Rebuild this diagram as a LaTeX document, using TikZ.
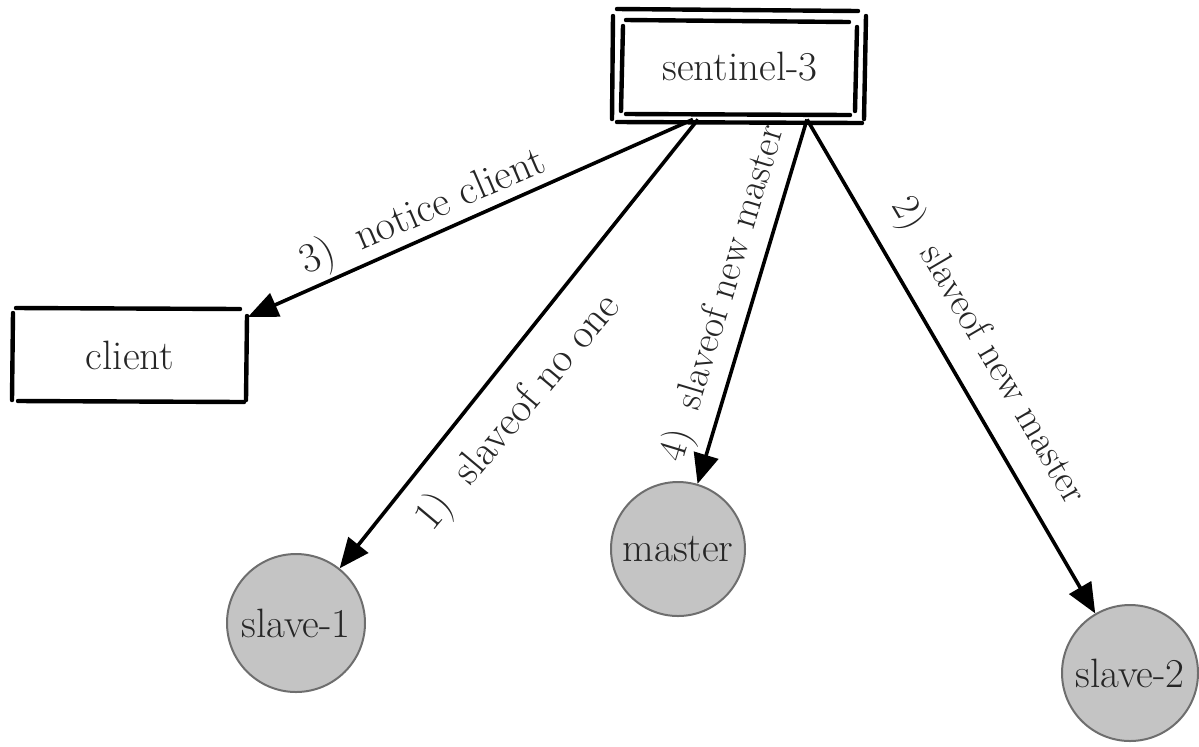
\documentclass[tikz,border=0pt]{standalone}
\usetikzlibrary{arrows.meta,calc}
\definecolor{circfill}{HTML}{C4C4C4}
\definecolor{circline}{HTML}{6E6E6E}
\begin{document}
\begin{tikzpicture}[x=0.5pt,y=-0.5pt,
  txt/.style={font=\fontsize{20.5}{24}\selectfont, text=black!85},
  boxnode/.style={txt, inner sep=0pt},
  sketch/.style={line width=2.2pt, line cap=round, black},
  circnode/.style={txt, circle, fill=circfill, draw=circline, line width=1pt, inner sep=0pt},
  conn/.style={line width=1.8pt, black, -{Triangle[length=15pt,width=12.5pt]}},
  lbl/.style={font=\fontsize{21}{25}\selectfont, text=black!85, inner sep=0pt},
  lbls/.style={font=\fontsize{19.5}{24}\selectfont, text=black!85, inner sep=0pt}
]
\useasboundingbox (0,0) rectangle (1199,746);

% nodes
\node[boxnode, minimum width=117pt, minimum height=52pt] (sentinel) at (740,67) {sentinel-3};
\node[boxnode, minimum width=117.5pt, minimum height=46.5pt] (client) at (130,355) {client};
\node[circnode, minimum size=69pt] (slave1) at (296,623) {slave-1};
\node[circnode, minimum size=67pt] (master) at (678,549) {master};
\node[circnode, minimum size=68pt] (slave2) at (1130,673) {slave-2};

% sketchy double frame of sentinel-3
\draw[sketch] (617,9) -- (858,11);
\draw[sketch] (626,20) -- (849,22);
\draw[sketch] (613,16) -- (612,119);
\draw[sketch] (623,26) -- (621,111);
\draw[sketch] (857,27) -- (855,111);
\draw[sketch] (866,16) -- (864,119);
\draw[sketch] (626,114) -- (850,115);
\draw[sketch] (617,122) -- (862,123);

% sketchy frame of client
\draw[sketch] (16,308) -- (240,309);
\draw[sketch] (13,313) -- (12,400);
\draw[sketch] (247,316) -- (246,400);
\draw[sketch] (18,401) -- (244,402);

% connectors
\coordinate (s3a) at ($(sentinel.south)+(-47,0)$);
\coordinate (s1a) at ($(sentinel.south)+(-42,0)$);
\coordinate (s4a) at ($(sentinel.south)+(67,0)$);
\coordinate (clientin) at ($(client.east)+(0,-38)$);
\draw[conn] (s3a) -- (clientin);
\draw[conn] (s1a) -- (slave1);
\draw[conn] (s4a) -- (master);
\draw[conn] (s4a) -- (slave2);

% labels
\node[lbl, rotate=23.2] (l3) at (423,213) {3)\ \ notice client};
\node[lbl, rotate=50] (l1) at (519,413) {1)\ \ slaveof no one};
\node[lbls, rotate=73.2] (l4) at (724,294) {4)\ \ slaveof new master};
\node[lbls, rotate=-59.6] (l2) at (988,351) {2)\ \ slaveof new master};
\end{tikzpicture}
\end{document}
